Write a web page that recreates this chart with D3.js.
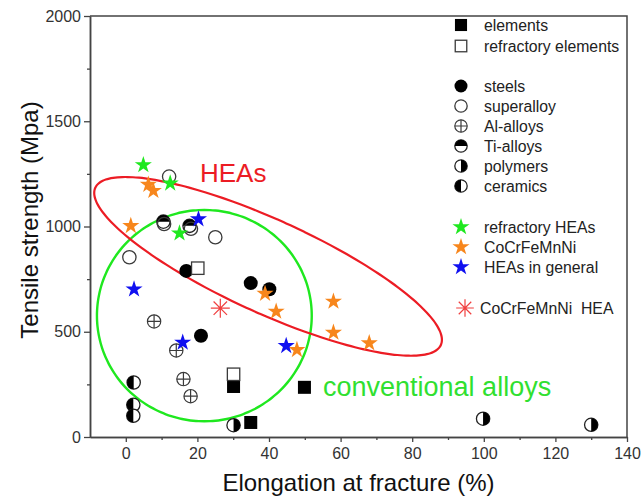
<!DOCTYPE html>
<html>
<head>
<meta charset="utf-8">
<script src="https://cdn.jsdelivr.net/npm/d3@7"></script>
<style>
  html, body { margin: 0; padding: 0; background: #fff; }
  svg { display: block; font-family: "Liberation Sans", Arial, sans-serif; }
</style>
</head>
<body>
<svg id="chart" width="641" height="499"></svg>
<script>
// Tensile strength vs. elongation at fracture: [elongation %, strength MPa]
const elements = [[30.1, 240], [49.9, 236], [34.9, 69]];
const refractoryElements = [[20.1, 802], [30.1, 298]];
const steels = [[16.9, 789], [34.9, 731], [40.1, 702], [21.0, 481]];
const tiAlloys = [[10.5, 1023], [17.8, 1003]];
const superalloys = [[12.1, 1237], [10.7, 1012], [18.2, 989], [25.0, 949], [1.0, 854]];
const alAlloys = [[7.9, 549], [14.1, 411], [16.1, 275], [18.1, 194]];
const polymers = [[30.1, 56], [99.8, 87], [130.0, 58]];
const ceramics = [[2.2, 259], [2.1, 153], [2.1, 101]];
const refractoryHEAs = [[4.9, 1292], [12.4, 1205], [15.0, 968]];
const cocrfemnni = [[6.3, 1199], [7.7, 1170], [1.4, 1003], [38.9, 681], [42.0, 596],
                    [47.8, 414], [58.0, 644], [58.0, 496], [68.0, 446]];
const heasGeneral = [[20.3, 1035], [2.3, 702], [15.9, 449], [44.8, 433]];
const cantorHEA = [[26.4, 612]];

// Region outlines in data units: centre and two conjugate half-diameters
const heaRegionCenter = [39.74, 810.6];
const heaRegionAxisA = [48.56, -348.8];
const heaRegionAxisB = [0, 242];
const conventionalCenter = [21.94, 576.6];
const conventionalAxisA = [30.0, 0];
const conventionalAxisB = [0, 502];

const xTicks = [0, 20, 40, 60, 80, 100, 120, 140];
const xMinorTicks = [10, 30, 50, 70, 90, 110, 130];
const yTicks = [0, 500, 1000, 1500, 2000];
const yMinorTicks = [250, 750, 1250, 1750];

const legendItems = [
  ["elements", "squareFilled"],
  ["refractory elements", "squareOpen"],
  null,
  ["steels", "circleFilled"],
  ["superalloy", "circleOpen"],
  ["Al-alloys", "circleCross"],
  ["Ti-alloys", "halfTop"],
  ["polymers", "halfRight"],
  ["ceramics", "halfLeft"],
  null,
  ["refractory HEAs", "starGreen"],
  ["CoCrFeMnNi", "starOrange"],
  ["HEAs in general", "starBlue"],
  null,
  ["CoCrFeMnNi  HEA", "asterisk"]
];

const svg = d3.select("#chart");
const plotLeft = 90, plotRight = 627, plotTop = 16, plotBottom = 437;
const x = d3.scaleLinear().domain([-10, 140]).range([plotLeft, plotRight]);
const y = d3.scaleLinear().domain([0, 2000]).range([plotBottom, plotTop]);

const axisColor = "#444";
const GREEN = "#1fe81f", ORANGE = "#f7861c", BLUE = "#1010f0", RED = "#ec1c24";

// Region outlines
function ellipsePath(c, a, b) {
  const pts = d3.range(0, 360, 3).map(t => {
    const r = t * Math.PI / 180;
    return [x(c[0] + Math.cos(r) * a[0] + Math.sin(r) * b[0]),
            y(c[1] + Math.cos(r) * a[1] + Math.sin(r) * b[1])];
  });
  return d3.line().curve(d3.curveCatmullRomClosed)(pts);
}
svg.append("path").attr("d", ellipsePath(conventionalCenter, conventionalAxisA, conventionalAxisB))
  .attr("fill", "none").attr("stroke", GREEN).attr("stroke-width", 2.4);
svg.append("path").attr("d", ellipsePath(heaRegionCenter, heaRegionAxisA, heaRegionAxisB))
  .attr("fill", "none").attr("stroke", RED).attr("stroke-width", 2.2);

// Marker drawing
function drawMarker(g, type, cx, cy, s = 1) {
  const r = 7 * s, stroke = "#3a3a3a";
  switch (type) {
    case "squareFilled": {
      const h = 6.5 * s;
      g.append("rect").attr("x", cx - h).attr("y", cy - h).attr("width", 2 * h).attr("height", 2 * h)
        .attr("fill", "#000");
      break;
    }
    case "squareOpen": {
      const h = 6.2 * s;
      g.append("rect").attr("x", cx - h).attr("y", cy - h).attr("width", 2 * h).attr("height", 2 * h)
        .attr("fill", "#fff").attr("stroke", stroke).attr("stroke-width", 1.3);
      break;
    }
    case "circleFilled":
      g.append("circle").attr("cx", cx).attr("cy", cy).attr("r", r).attr("fill", "#000");
      break;
    case "circleOpen":
      g.append("circle").attr("cx", cx).attr("cy", cy).attr("r", r * 0.95).attr("fill", "none")
        .attr("stroke", stroke).attr("stroke-width", 1.3);
      break;
    case "circleCross": {
      const rr = r * 0.95;
      g.append("circle").attr("cx", cx).attr("cy", cy).attr("r", rr).attr("fill", "#fff")
        .attr("stroke", stroke).attr("stroke-width", 1.2);
      g.append("path").attr("d", `M${cx - rr},${cy}H${cx + rr}M${cx},${cy - rr}V${cy + rr}`)
        .attr("stroke", stroke).attr("stroke-width", 1.2);
      break;
    }
    case "halfTop":
    case "halfRight":
    case "halfLeft": {
      const rr = r * 0.95;
      g.append("circle").attr("cx", cx).attr("cy", cy).attr("r", rr).attr("fill", "#fff")
        .attr("stroke", "#222").attr("stroke-width", 1.3);
      let d;
      if (type === "halfTop") d = `M${cx - rr},${cy}A${rr},${rr} 0 0 1 ${cx + rr},${cy}Z`;
      else if (type === "halfRight") d = `M${cx},${cy - rr}A${rr},${rr} 0 0 1 ${cx},${cy + rr}Z`;
      else d = `M${cx},${cy + rr}A${rr},${rr} 0 0 1 ${cx},${cy - rr}Z`;
      g.append("path").attr("d", d).attr("fill", "#000");
      break;
    }
    case "starGreen":
    case "starOrange":
    case "starBlue": {
      const col = type === "starGreen" ? GREEN : type === "starOrange" ? ORANGE : BLUE;
      const R = 9 * s;
      g.append("path").attr("d", d3.symbol(d3.symbolStar, R * R / 0.8908130915292852)())
        .attr("transform", `translate(${cx},${cy})`).attr("fill", col);
      break;
    }
    case "asterisk": {
      const R = 9.5 * s;
      const d = d3.range(4).map(i => {
        const a = i * Math.PI / 4;
        const dx = R * Math.cos(a), dy = R * Math.sin(a);
        return `M${cx - dx},${cy - dy}L${cx + dx},${cy + dy}`;
      }).join("");
      g.append("path").attr("d", d).attr("stroke", "#f04040").attr("stroke-width", 1.2).attr("fill", "none");
      break;
    }
  }
}

// Data markers
const marks = svg.append("g");
const series = [
  [tiAlloys, "halfTop"], [superalloys, "circleOpen"], [steels, "circleFilled"],
  [alAlloys, "circleCross"], [polymers, "halfRight"], [ceramics, "halfLeft"],
  [elements, "squareFilled"], [refractoryElements, "squareOpen"],
  [cantorHEA, "asterisk"], [refractoryHEAs, "starGreen"], [cocrfemnni, "starOrange"],
  [heasGeneral, "starBlue"]
];
series.forEach(([pts, type]) => pts.forEach(p => drawMarker(marks, type, x(p[0]), y(p[1]))));

// Axes and frame
const xAxis = svg.append("g").attr("transform", `translate(0,${plotBottom})`)
  .call(d3.axisBottom(x).tickValues(xTicks).tickFormat(d3.format("d"))
    .tickSize(5).tickPadding(6).tickSizeOuter(0));
const xMinor = svg.append("g").attr("transform", `translate(0,${plotBottom})`)
  .call(d3.axisBottom(x).tickValues(xMinorTicks).tickSize(3).tickFormat("").tickSizeOuter(0));
const yAxis = svg.append("g").attr("transform", `translate(${plotLeft},0)`)
  .call(d3.axisLeft(y).tickValues(yTicks).tickFormat(d3.format("d"))
    .tickSize(6).tickPadding(3).tickSizeOuter(0));
const yMinor = svg.append("g").attr("transform", `translate(${plotLeft},0)`)
  .call(d3.axisLeft(y).tickValues(yMinorTicks).tickSize(3).tickFormat("").tickSizeOuter(0));
[xAxis, xMinor, yAxis, yMinor].forEach(g => {
  g.selectAll("path.domain").attr("stroke", axisColor).attr("stroke-width", 1.5);
  g.selectAll("line").attr("stroke", axisColor).attr("stroke-width", 1.3);
  g.selectAll("text").attr("font-size", 16).attr("fill", "#333")
    .attr("font-family", "'Liberation Sans', Arial, sans-serif");
});
svg.append("path").attr("d", `M${plotLeft},${plotTop}H${plotRight}V${plotBottom}`)
  .attr("fill", "none").attr("stroke", axisColor).attr("stroke-width", 1.5);

// Axis titles
svg.append("text").attr("x", (plotLeft + plotRight) / 2).attr("y", 491).attr("text-anchor", "middle")
  .attr("font-size", 24).attr("fill", "#111").text("Elongation at fracture (%)");
svg.append("text").attr("transform", "translate(38,220) rotate(-90)").attr("text-anchor", "middle")
  .attr("font-size", 24).attr("fill", "#111").text("Tensile strength (Mpa)");

// Region labels
svg.append("text").attr("x", 200).attr("y", 182).attr("font-size", 26).attr("fill", RED).text("HEAs");
svg.append("text").attr("x", 323).attr("y", 396).attr("font-size", 27).attr("fill", "#30e030")
  .text("conventional alloys");

// Legend
const legend = svg.append("g");
const rowY = [25, 46, null, 86, 106, 126, 146, 166, 186, null, 227, 247, 267, null, 308];
legendItems.forEach((item, i) => {
  if (!item) return;
  const [label, type] = item;
  const ly = rowY[i];
  const isAst = type === "asterisk";
  drawMarker(legend, type, isAst ? 465 : 461, ly, type.startsWith("star") ? 1 : 0.93);
  legend.append("text").attr("x", isAst ? 480 : 484).attr("y", ly).attr("dy", "0.36em")
    .attr("font-size", 15.8).attr("fill", "#222").attr("xml:space", "preserve").text(label);
});
</script>
</body>
</html>
